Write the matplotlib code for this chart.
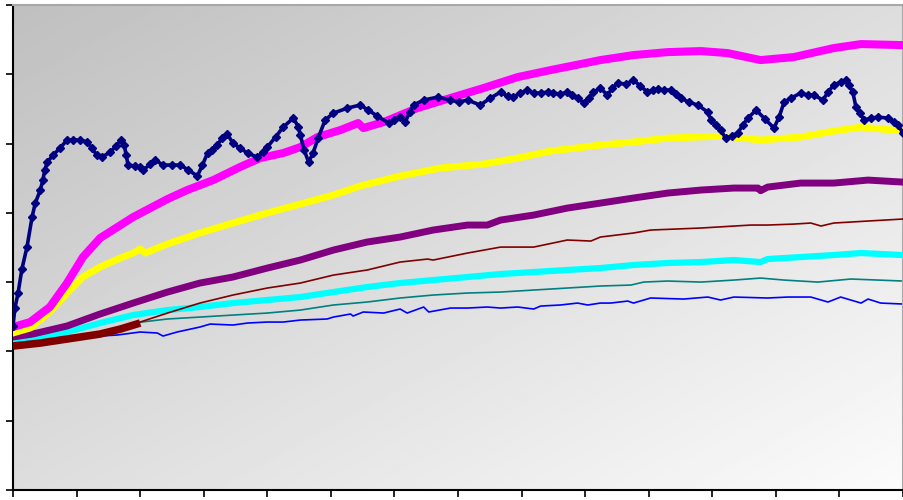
import numpy as np
import matplotlib
matplotlib.use("Agg")
import matplotlib.pyplot as plt

# ---- series data -------------------------------------------------------
navy_x = [0, 0.03, 0.08, 0.14, 0.22, 0.30, 0.35, 0.43, 0.47, 0.50, 0.54, 0.63, 0.74, 0.85,
          0.94, 1.05, 1.17, 1.24, 1.32, 1.40, 1.53, 1.62, 1.70, 1.75, 1.78, 1.81, 1.92, 2.00,
          2.05, 2.16, 2.24, 2.36, 2.50, 2.63, 2.76, 2.90, 2.98, 3.06, 3.13, 3.21, 3.29, 3.37,
          3.46, 3.57, 3.69, 3.84, 3.94, 4.00, 4.13, 4.25, 4.41, 4.49, 4.52, 4.58, 4.65, 4.72,
          4.80, 4.91, 5.04, 5.26, 5.46, 5.59, 5.73, 5.91, 6.00, 6.09, 6.17, 6.24, 6.30, 6.46,
          6.68, 6.88, 7.01, 7.15, 7.35, 7.51, 7.67, 7.78, 7.87, 7.98, 8.09, 8.19, 8.30, 8.41,
          8.50, 8.61, 8.72, 8.80, 8.88, 8.98, 9.06, 9.13, 9.24, 9.35, 9.43, 9.51, 9.64, 9.76,
          9.87, 9.98, 10.06, 10.14, 10.24, 10.35, 10.43, 10.50, 10.63, 10.77, 10.93, 10.98,
          11.06, 11.13, 11.21, 11.31, 11.40, 11.48, 11.56, 11.69, 11.83, 11.97, 12.05, 12.13,
          12.24, 12.39, 12.50, 12.60, 12.74, 12.82, 12.91, 13.02, 13.10, 13.15, 13.21, 13.26,
          13.32, 13.39, 13.50, 13.61, 13.76, 13.86, 13.92, 14.00]
navy_y = [23.67, 26.26, 28.43, 31.89, 35.06, 39.39, 41.41, 43.29, 44.73, 46.18, 47.33, 48.34,
          49.35, 50.51, 50.51, 50.51, 50.22, 49.35, 48.34, 48.05, 48.77, 49.64, 50.51, 49.78,
          48.34, 46.90, 46.75, 46.61, 46.18, 47.04, 47.62, 46.90, 46.90, 46.90, 46.18, 45.31,
          46.90, 48.63, 49.06, 49.78, 50.79, 51.37, 50.07, 49.35, 48.63, 48.05, 48.77, 49.49,
          50.94, 52.38, 53.68, 52.38, 51.23, 49.06, 47.33, 48.63, 50.79, 53.39, 54.40, 55.12,
          55.56, 54.83, 53.97, 52.96, 53.39, 53.82, 53.10, 54.55, 55.56, 56.28, 56.71, 56.28,
          55.99, 56.28, 55.56, 56.57, 57.43, 56.85, 56.71, 57.29, 57.72, 57.29, 57.29, 57.43,
          57.29, 57.14, 57.43, 57.00, 56.57, 55.84, 56.57, 57.43, 58.01, 57.00, 58.01, 58.73,
          58.59, 59.16, 58.30, 57.43, 57.72, 57.86, 57.72, 57.72, 57.14, 56.57, 55.99, 55.56,
          54.55, 53.39, 52.67, 51.95, 50.79, 51.08, 51.52, 52.67, 53.68, 54.83, 53.54, 52.24,
          53.82, 55.99, 56.57, 57.29, 57.00, 57.00, 56.28, 57.43, 58.44, 58.87, 59.16, 58.44,
          57.43, 55.27, 54.40, 53.39, 53.68, 53.82, 53.68, 53.10, 52.67, 51.52]

magenta_x = [0, 0.27, 0.58, 0.85, 1.10, 1.37, 1.89, 2.43, 2.74, 3.15, 3.57, 3.89, 4.25, 4.52,
             4.79, 5.15, 5.43, 5.51, 5.83, 6.36, 6.88, 7.40, 7.94, 8.46, 9.24, 9.76, 10.30,
             10.82, 11.24, 11.76, 12.28, 12.91, 13.34, 14.00]
magenta_y = [23.52, 24.24, 26.41, 29.87, 33.62, 36.36, 39.39, 41.99, 43.29, 44.73, 46.61, 47.91,
             48.63, 49.49, 50.94, 51.95, 52.96, 52.24, 53.10, 55.12, 56.57, 58.01, 59.60, 60.61,
             62.05, 62.77, 63.20, 63.35, 63.06, 62.05, 62.48, 63.78, 64.36, 64.21]

yellow_x = [0, 0.27, 0.58, 0.85, 1.10, 1.37, 1.69, 1.89, 2.00, 2.08, 2.43, 2.94, 3.46, 4.00,
            4.52, 5.04, 5.46, 6.09, 6.72, 7.40, 7.94, 8.46, 9.24, 9.76, 10.30, 11.18, 11.76,
            12.39, 12.91, 13.34, 14.00]
yellow_y = [22.66, 23.38, 25.69, 28.43, 30.74, 32.18, 33.48, 34.20, 34.78, 34.20, 35.50, 37.09,
            38.53, 39.97, 41.27, 42.57, 43.87, 45.31, 46.46, 47.04, 47.91, 48.92, 49.78, 50.22,
            50.79, 51.08, 50.51, 50.94, 51.80, 52.38, 51.80]

purple_x = [0, 0.31, 0.85, 1.37, 1.89, 2.43, 2.94, 3.46, 4.00, 4.52, 5.04, 5.57, 6.09, 6.61,
            7.15, 7.46, 7.67, 8.19, 8.72, 9.24, 9.76, 10.30, 10.82, 11.34, 11.72, 11.76, 11.87,
            12.39, 12.91, 13.45, 14.00]
purple_y = [22.08, 22.51, 23.67, 25.40, 26.98, 28.57, 29.87, 30.74, 32.03, 33.19, 34.63, 35.79,
            36.51, 37.52, 38.24, 38.24, 38.96, 39.68, 40.69, 41.41, 42.14, 42.86, 43.29, 43.58,
            43.58, 43.20, 43.72, 44.30, 44.30, 44.73, 44.44]

darkred_x = [0, 0.85, 1.37, 2.00, 2.43, 2.94, 3.46, 4.00, 4.52, 5.04, 5.57, 6.09, 6.52, 6.61,
             7.15, 7.67, 8.19, 8.72, 9.09, 9.24, 9.76, 10.03, 10.82, 11.61, 11.87, 12.28,
             12.55, 12.71, 12.91, 13.45, 14.00]
darkred_y = [20.92, 21.93, 22.66, 24.24, 25.54, 26.98, 28.14, 29.15, 29.87, 31.02, 31.75, 32.90,
             33.33, 33.19, 34.20, 35.06, 35.06, 36.08, 35.93, 36.51, 37.09, 37.52, 37.81, 38.24,
             38.24, 38.38, 38.53, 38.10, 38.53, 38.82, 39.11]

darkred_early_x = [0, 0.43, 0.85, 1.37, 1.69, 2.00]
darkred_early_y = [20.78, 21.21, 21.79, 22.51, 23.23, 24.10]

cyan_x = [0, 0.31, 0.85, 1.37, 1.89, 2.43, 2.94, 3.46, 4.00, 4.52, 5.04, 5.57, 6.09, 6.61,
          7.15, 7.67, 8.19, 8.72, 9.24, 9.76, 10.30, 10.82, 11.34, 11.76, 11.87, 12.39, 12.91,
          13.34, 14.00]
cyan_y = [21.36, 21.79, 22.80, 24.10, 25.25, 25.97, 26.41, 26.98, 27.42, 27.85, 28.57, 29.29,
          29.87, 30.30, 30.74, 31.17, 31.46, 31.75, 32.03, 32.47, 32.76, 32.90, 33.19, 32.90,
          33.33, 33.62, 33.91, 34.20, 33.91]

teal_x = [0, 0.85, 1.37, 1.89, 2.43, 2.94, 3.46, 4.00, 4.52, 5.04, 5.57, 6.09, 6.61, 7.15,
          7.67, 8.19, 8.72, 9.24, 9.72, 9.92, 10.30, 10.82, 11.34, 11.76, 12.13, 12.66, 13.18,
          14.00]
teal_y = [21.36, 22.08, 22.80, 24.10, 24.68, 24.96, 25.25, 25.54, 25.97, 26.70, 27.13, 27.71,
          28.14, 28.43, 28.57, 28.86, 29.15, 29.44, 29.58, 30.01, 30.16, 30.01, 30.30, 30.59,
          30.30, 30.01, 30.45, 30.16]

blue_x = [0, 0.58, 1.10, 1.64, 2.00, 2.27, 2.36, 2.58, 2.94, 3.10, 3.46, 3.69, 4.00, 4.25,
          4.52, 4.94, 5.04, 5.31, 5.35, 5.51, 5.83, 6.09, 6.20, 6.46, 6.54, 6.88, 7.15, 7.46,
          7.67, 7.94, 8.19, 8.30, 8.61, 8.88, 9.04, 9.24, 9.40, 9.67, 9.76, 10.03, 10.55,
          10.93, 11.13, 11.34, 11.87, 12.19, 12.55, 12.82, 13.02, 13.34, 13.45, 13.65, 14.00]
blue_y = [21.21, 21.93, 22.08, 22.37, 22.80, 22.66, 22.22, 22.80, 23.52, 23.95, 23.81, 24.10,
          24.24, 24.24, 24.53, 24.68, 24.96, 25.40, 25.11, 25.69, 25.54, 26.12, 25.54, 26.41,
          25.69, 26.26, 26.26, 26.41, 26.26, 26.41, 26.12, 26.55, 26.70, 26.98, 26.70, 26.98,
          26.98, 27.27, 26.98, 27.71, 27.56, 27.85, 27.42, 27.85, 27.71, 27.85, 27.85, 27.13,
          27.85, 26.98, 27.56, 26.98, 26.84]

x_ticks = list(range(0, 15))
y_ticks = list(range(0, 71, 10))

# ---- figure ------------------------------------------------------------
fig = plt.figure(figsize=(9.04, 5.0), dpi=100)
ax = fig.add_axes([13 / 904, 10 / 500, 890 / 904, 485 / 500])
ax.set_xlim(0, 14)
ax.set_ylim(0, 70)

# diagonal grey-to-white plot-area fill
gx, gy = np.meshgrid(np.linspace(0, 1, 300), np.linspace(1, 0, 300))
shade = 0.75 + 0.235 * (gx + (1 - gy)) / 2
ax.imshow(shade, cmap="gray", vmin=0, vmax=1, extent=[0, 1, 0, 1],
          transform=ax.transAxes, aspect="auto", zorder=0, interpolation="bilinear")

ax.plot(blue_x, blue_y, color="#0000FF", lw=1.2, zorder=2)
ax.plot(teal_x, teal_y, color="#008080", lw=1.2, zorder=2)
ax.plot(cyan_x, cyan_y, color="#00FFFF", lw=4.5, zorder=3)
ax.plot(darkred_x, darkred_y, color="#800000", lw=1.2, zorder=3)
ax.plot(darkred_early_x, darkred_early_y, color="#800000", lw=5.5, zorder=4,
        solid_capstyle="butt")
ax.plot(purple_x, purple_y, color="#800080", lw=5.0, zorder=4)
ax.plot(yellow_x, yellow_y, color="#FFFF00", lw=5.0, zorder=5)
ax.plot(magenta_x, magenta_y, color="#FF00FF", lw=5.8, zorder=6)
ax.plot(navy_x, navy_y, color="#000080", lw=2.6, marker="D", markersize=4.0, zorder=7)

ax.set_xticks(x_ticks)
ax.set_yticks(y_ticks)
ax.set_xticklabels([])
ax.set_yticklabels([])
ax.tick_params(direction="out", length=5, width=1.2, color="black")

for side in ("left", "bottom"):
    ax.spines[side].set_color("black")
    ax.spines[side].set_linewidth(1.5)
for side in ("top", "right"):
    ax.spines[side].set_color("#a8a8a8")
    ax.spines[side].set_linewidth(1.5)

fig.savefig("out.png", dpi=100)
